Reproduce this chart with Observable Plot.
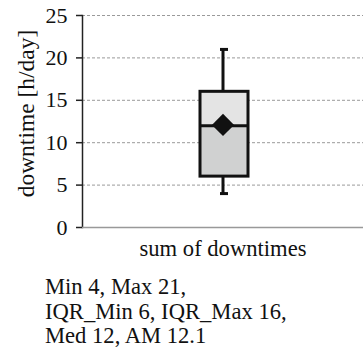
<!DOCTYPE html>
<html>
<head>
<meta charset="utf-8">
<script src="https://cdn.jsdelivr.net/npm/d3@7"></script>
<script src="https://cdn.jsdelivr.net/npm/@observablehq/plot@0.6"></script>
<style>
  html, body { margin: 0; padding: 0; background: #fff; }
  #chart { width: 363px; }
  .caption { font-family: 'Liberation Serif', serif; font-size: 22.6px; line-height: 24.5px; color: #111; margin: 13px 0 0 45px; }
</style>
</head>
<body>
<div id="chart"></div>
<script>
const categories = ["sum of downtimes"];
const minVals = [4];
const maxVals = [21];
const q1Vals = [6];
const q3Vals = [16];
const medVals = [12];
const meanVals = [12.1];
const yTicks = [0, 5, 10, 15, 20, 25];
const yTitle = "downtime [h/day]";
const captionLines = ["Min 4, Max 21,", "IQR_Min 6, IQR_Max 16,", "Med 12, AM 12.1"];

const rows = categories.map((c, i) => ({
  cat: c, min: minVals[i], max: maxVals[i], q1: q1Vals[i], q3: q3Vals[i], med: medVals[i], mean: meanVals[i]
}));

const boxInset = {insetLeft: 118, insetRight: 115};
const capInset = {insetLeft: 138, insetRight: 135};

const chart = Plot.plot({
  width: 363,
  height: 262,
  marginTop: 15,
  marginBottom: 35,
  marginLeft: 82,
  marginRight: 0,
  style: {fontFamily: "'Liberation Serif', serif", fontSize: "22px", color: "#111", background: "#fff"},
  x: {domain: categories, padding: 0},
  y: {domain: [0, 25], ticks: yTicks},
  marks: [
    Plot.ruleY(yTicks.filter(d => d > 0), {stroke: "#9a9a9a", strokeWidth: 1, strokeDasharray: "3,2"}),
    Plot.axisY({ticks: yTicks, tickSize: 6, tickPadding: 9, stroke: "#222", strokeWidth: 1.5, label: null, fontSize: 22}),
    Plot.text([yTitle], {frameAnchor: "left", textAnchor: "middle", lineAnchor: "middle", rotate: -90, dx: -56, dy: -8, fontSize: 23.5, fill: "#111"}),
    Plot.axisX({tickSize: 0, tickPadding: 12, label: null, fontSize: 22.6}),
    Plot.frame({anchor: "left", stroke: "#222", strokeWidth: 1.5}),
    Plot.ruleY([0], {stroke: "#999", strokeWidth: 1.5}),
    // whiskers
    Plot.ruleX(rows, {x: "cat", y1: "q3", y2: "max", stroke: "#111", strokeWidth: 3}),
    Plot.ruleX(rows, {x: "cat", y1: "min", y2: "q1", stroke: "#111", strokeWidth: 3}),
    Plot.tickY(rows, {x: "cat", y: "max", stroke: "#111", strokeWidth: 3, ...capInset}),
    Plot.tickY(rows, {x: "cat", y: "min", stroke: "#111", strokeWidth: 3, ...capInset}),
    // box segments
    Plot.barY(rows, {x: "cat", y1: "q1", y2: "med", fill: "#d0d1d1", ...boxInset}),
    Plot.barY(rows, {x: "cat", y1: "med", y2: "q3", fill: "#e4e4e4", ...boxInset}),
    Plot.barY(rows, {x: "cat", y1: "q1", y2: "q3", fill: "none", stroke: "#111", strokeWidth: 3, ...boxInset}),
    Plot.tickY(rows, {x: "cat", y: "med", stroke: "#111", strokeWidth: 3, ...boxInset}),
    // mean
    Plot.dot(rows, {x: "cat", y: "mean", symbol: "diamond2", r: 10, fill: "#111", stroke: "none"})
  ]
});
document.getElementById("chart").appendChild(chart);

const cap = document.createElement("div");
cap.className = "caption";
captionLines.forEach(l => { const d = document.createElement("div"); d.textContent = l; cap.appendChild(d); });
document.getElementById("chart").appendChild(cap);
</script>
</body>
</html>
